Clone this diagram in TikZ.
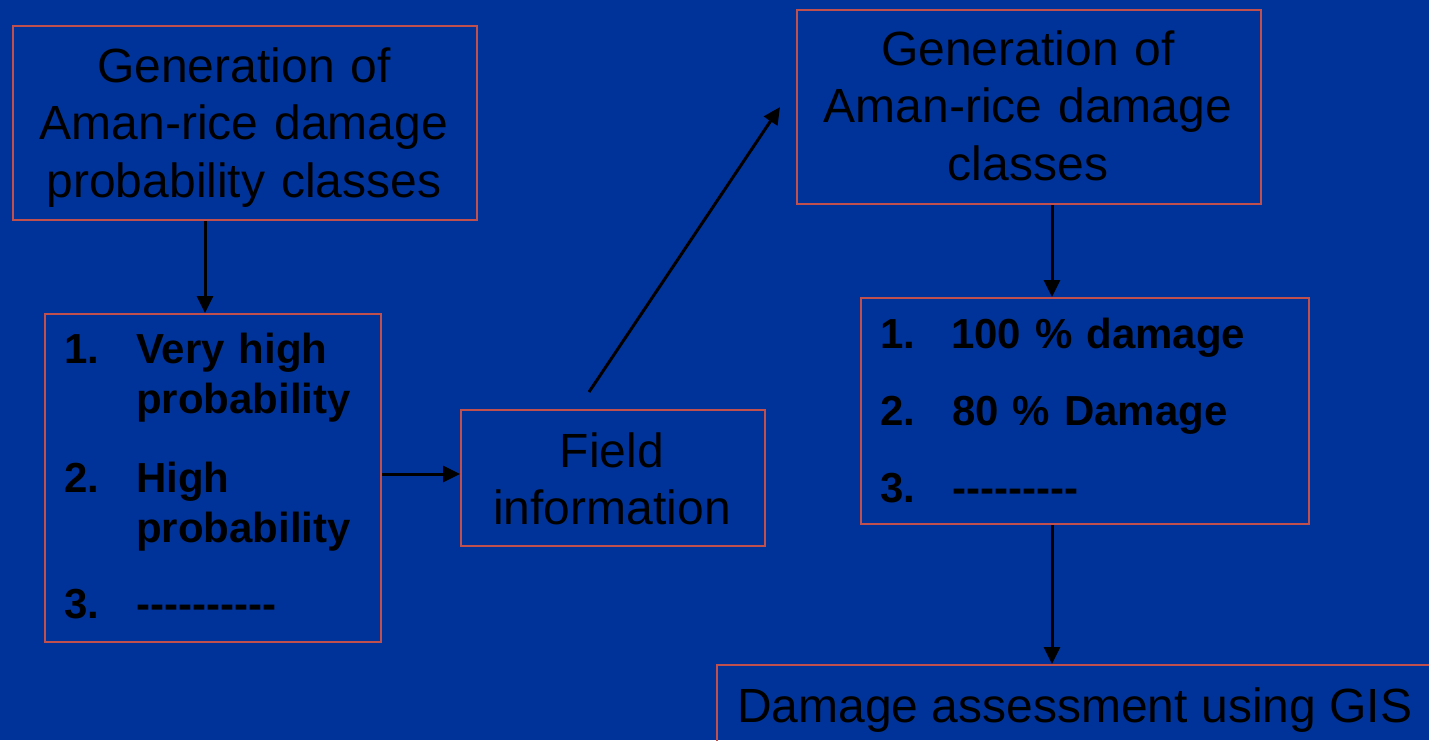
\documentclass[tikz,border=0pt]{standalone}
\usepackage{fontspec}
\setmainfont{Liberation Sans}[Ligatures=TeXOff]
\usetikzlibrary{arrows.meta}
\definecolor{slidebg}{HTML}{003399}
\definecolor{boxline}{HTML}{C0504D}
\begin{document}
\begin{tikzpicture}[x=1pt,y=-1pt,
  box/.style={draw=boxline, line width=2pt, inner sep=0pt, anchor=north west},
  bigtext/.style={inner sep=0pt, text=black, font=\fontsize{48}{57.5}\selectfont,
    text width=470pt, align=center, anchor=base},
  listnum/.style={inner sep=0pt, text=black, font=\fontsize{42}{50}\selectfont\bfseries,
    anchor=base west},
  listitem/.style={inner sep=0pt, text=black, font=\fontsize{42}{50}\selectfont\bfseries,
    text width=300pt, align=left, anchor=base west},
  arr/.style={draw=black, line width=3pt, -{Triangle[length=17pt,width=16pt]}}]

% slide background and page size
\useasboundingbox (0,0) rectangle (1429,740);
\fill[slidebg] (0,0) rectangle (1429,740);

% boxes
\node[box, minimum width=464pt, minimum height=194pt] (b1) at (12,25) {};
\node[box, minimum width=336pt, minimum height=328pt] (b2) at (44,313) {};
\node[box, minimum width=304pt, minimum height=136pt] (b3) at (460,409) {};
\node[box, minimum width=464pt, minimum height=194pt] (b4) at (796,9) {};
\node[box, minimum width=448pt, minimum height=226pt] (b5) at (860,297) {};
\node[box, minimum width=740pt, minimum height=120pt] (b6) at (716,664) {};

% box texts
\node[bigtext] (t1) at (244,82) {Generation of\\Aman-rice damage\\probability classes};
\node[bigtext] (t4) at (1028,65) {Generation of\\Aman-rice damage\\classes};
\node[bigtext] (t3) at (612,467) {Field\\information};
\node[inner sep=0pt, text=black, font=\fontsize{48}{57.5}\selectfont, anchor=base west]
  (t6) at (737,722) {Damage assessment using GIS};

% probability classes
\node[listnum] (n11) at (64,363) {1.};
\node[listitem] (i11) at (136,363) {Very high\\probability};
\node[listnum] (n12) at (64,492) {2.};
\node[listitem] (i12) at (136,492) {High\\probability};
\node[listnum] (n13) at (64,618) {3.};
\node[listitem] (i13) at (136,618) {----------};

% damage classes
\node[listnum] (n21) at (880,348) {1.};
\node[listitem] (i21) at (951,348) {100 \% damage};
\node[listnum] (n22) at (880,425) {2.};
\node[listitem] (i22) at (952,425) {80 \% Damage};
\node[listnum] (n23) at (880,502) {3.};
\node[listitem] (i23) at (952,502) {---------};

% connectors
\draw[arr] ([xshift=-40pt]b1.south) -- ([xshift=-8pt]b2.north);
\draw[arr] ([yshift=4pt]b2.east) -- ([yshift=4pt]b3.west);
\draw[arr] ([xshift=-24pt,yshift=17pt]b3.north) -- ([xshift=-16pt]b4.west);
\draw[arr] ([xshift=23pt]b4.south) -- ([xshift=-33pt]b5.north);
\draw[arr] ([xshift=-33pt]b5.south) -- ([xshift=-33pt]b5.south |- b6.north);
\end{tikzpicture}
\end{document}
